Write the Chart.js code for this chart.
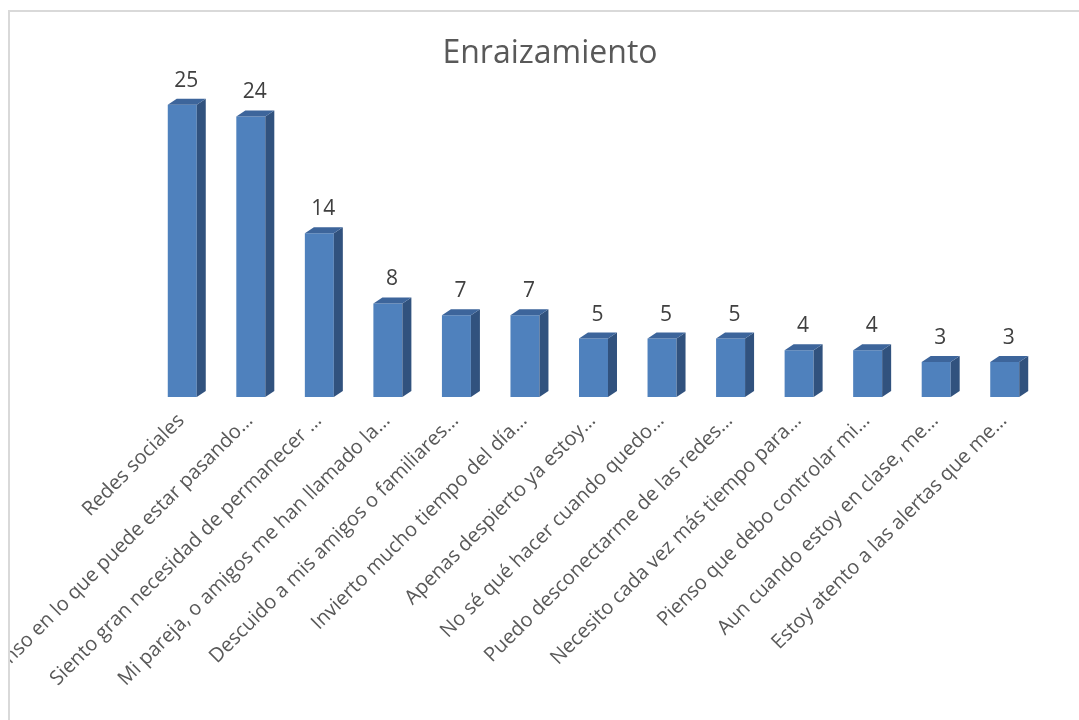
<!DOCTYPE html>
<html>
<head>
<meta charset="utf-8">
<script src="https://cdn.jsdelivr.net/npm/chart.js@4.4.1/dist/chart.umd.min.js"></script>
<style>
  html, body { margin: 0; padding: 0; background: #fff; overflow: hidden; }
  #box {
    position: absolute; left: 8px; top: 10px;
    width: 1069px; height: 708px;
    border-left: 2px solid #d9d9d9; border-top: 2px solid #d9d9d9;
    overflow: hidden;
  }
  #myChart { display: block; }
</style>
</head>
<body>
<div id="box"><canvas id="myChart" width="1069" height="708"></canvas></div>
<script>
// Datos del gráfico "Enraizamiento"
const titulo = 'Enraizamiento';
const categorias = [
  'Redes sociales',
  'Pienso en lo que puede estar pasando…',
  'Siento gran necesidad de permanecer …',
  'Mi pareja, o amigos me han llamado la…',
  'Descuido a mis amigos o familiares…',
  'Invierto mucho tiempo del día…',
  'Apenas despierto ya estoy…',
  'No sé qué hacer cuando quedo…',
  'Puedo desconectarme de las redes…',
  'Necesito cada vez más tiempo para…',
  'Pienso que debo controlar mi…',
  'Aun cuando estoy en clase, me…',
  'Estoy atento a las alertas que me…'
];
const valores = [25, 24, 14, 8, 7, 7, 5, 5, 5, 4, 4, 3, 3];

// profundidad del efecto 3D
const dx = 9, dy = 6;

// plugin para caras laterales / superiores y etiquetas de datos
const barras3d = {
  id: 'barras3d',
  afterDatasetsDraw(chart) {
    const ctx = chart.ctx;
    const meta = chart.getDatasetMeta(0);
    ctx.save();
    meta.data.forEach(function(bar, i) {
      const w = bar.width;
      const l = bar.x - w / 2, r = bar.x + w / 2;
      const t = bar.y, b = bar.base;
      // cara lateral
      ctx.fillStyle = '#31527e';
      ctx.beginPath();
      ctx.moveTo(r, t);
      ctx.lineTo(r + dx, t - dy);
      ctx.lineTo(r + dx, b - dy);
      ctx.lineTo(r, b);
      ctx.closePath();
      ctx.fill();
      // cara superior
      ctx.fillStyle = '#3d659b';
      ctx.beginPath();
      ctx.moveTo(l, t);
      ctx.lineTo(l + dx, t - dy);
      ctx.lineTo(r + dx, t - dy);
      ctx.lineTo(r, t);
      ctx.closePath();
      ctx.fill();
      // etiqueta
      ctx.fillStyle = '#404040';
      ctx.font = '21px "Open Sans"';
      ctx.textAlign = 'center';
      ctx.textBaseline = 'alphabetic';
      ctx.fillText(String(valores[i]), bar.x + 4, t - dy - 12);
    });
    ctx.restore();
  }
};

const ctx = document.getElementById('myChart').getContext('2d');
const chart = new Chart(ctx, {
  type: 'bar',
  data: {
    labels: categorias,
    datasets: [{
      data: valores,
      backgroundColor: '#4f81bd',
      borderWidth: 0,
      categoryPercentage: 1,
      barPercentage: 0.423
    }]
  },
  options: {
    responsive: false,
    animation: false,
    devicePixelRatio: 1,
    // el título se centra entre estos márgenes
    layout: { padding: { left: 51, right: 40, top: 0, bottom: 0 } },
    plugins: {
      legend: { display: false },
      tooltip: { enabled: false },
      title: {
        display: true,
        text: titulo,
        color: '#595959',
        font: { family: 'Open Sans', size: 32, weight: 'normal', lineHeight: 1.2 },
        padding: { top: 23, bottom: 8 }
      }
    },
    scales: {
      x: {
        grid: { display: false },
        border: { display: false },
        ticks: {
          autoSkip: false,
          minRotation: 45,
          maxRotation: 45,
          padding: 4,
          labelOffset: -1,
          color: '#595959',
          font: { family: 'Open Sans', size: 20 }
        },
        afterFit(scale) {
          scale.height = 323;
          scale.paddingLeft = 138;
          scale.paddingRight = 0;
        }
      },
      y: {
        display: false,
        min: 0,
        max: 27
      }
    }
  },
  plugins: [barras3d]
});
</script>
</body>
</html>
